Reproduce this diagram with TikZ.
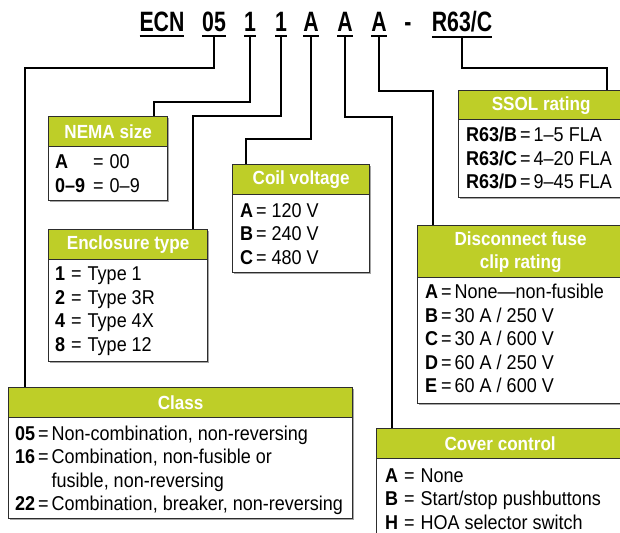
\documentclass[tikz,border=0pt]{standalone}
\usepackage{fontspec}
\setmainfont{Liberation Sans}[FakeStretch=0.9]
\newfontfamily\titlefont{Liberation Sans}[FakeStretch=0.76]
\usetikzlibrary{shadows}
\definecolor{hdrgreen}{RGB}{190,206,40}
\definecolor{bordergray}{RGB}{45,45,45}
\newcommand\ulw[1]{\vtop{\hbox{#1}\kern3pt\hrule height 2pt}}
\tikzset{
  ttl/.style={anchor=base, inner sep=0pt, font=\titlefont\bfseries\fontsize{28}{28}\selectfont},
  conn/.style={draw=black, line width=1.3pt},
  boxsty/.style={draw=bordergray, line width=1.3pt, fill=white, inner sep=0pt,
    drop shadow={shadow xshift=1.6pt, shadow yshift=-1.6pt, fill=black!35, opacity=1}},
  hdrsty/.style={draw=bordergray, line width=1.3pt, fill=hdrgreen, inner sep=0pt, text=white,
    align=center, font=\bfseries\fontsize{19}{23}\selectfont},
  rows/.style={anchor=base west, inner sep=0pt, font=\fontsize{20}{23.5}\selectfont},
}
% name, x, y, width, height, header height, title
\newcommand\lbox[7]{%
  \node[boxsty, minimum width=#4pt, minimum height=#5pt, anchor=north west] (#1) at (#2,#3) {};
  \node[hdrsty, minimum width=#4pt, minimum height=#6pt, anchor=north west] (#1h) at (#2,#3) {#7};
}
\newcommand\eqs{\hspace{3pt}}
\begin{document}
\begin{tikzpicture}[x=1pt,y=-1pt]
\useasboundingbox (0,0) rectangle (620,532);
\begin{scope}
\clip (0,0) rectangle (620,532);
\fill[white] (0,0) rectangle (620,532);

% title code
\node[ttl] (tECN) at (162,32) {\ulw{ECN}};
\node[ttl] (t05)  at (214,32) {\ulw{05}};
\node[ttl] (t1a)  at (250,32) {\ulw{1}};
\node[ttl] (t1b)  at (281,32) {\ulw{1}};
\node[ttl] (tAa)  at (311,32) {\ulw{A}};
\node[ttl] (tAb)  at (345,32) {\ulw{A}};
\node[ttl] (tAc)  at (379,32) {\ulw{A}};
\node[ttl] (tdash) at (408,32) {-};
\node[ttl] (tR)   at (462,32) {\ulw{R63/C}};

% boxes
\lbox{nema}{48}{116}{119}{84}{30}{NEMA size}
\lbox{encl}{48}{229}{159}{132}{30}{Enclosure type}
\lbox{coil}{232}{164}{137}{108}{30}{Coil voltage}
\lbox{ssol}{458}{90}{165}{107}{29}{SSOL rating}
\lbox{disc}{417}{225}{206}{178}{52}{Disconnect fuse\\clip rating}
\lbox{class}{8}{387}{344}{131}{30}{Class}
\lbox{cover}{376}{428}{247}{140}{30}{Cover control}

% connectors
\coordinate (k05) at (25,68);
\coordinate (k1a) at (154,102);
\coordinate (k1b) at (193,116);
\coordinate (kAa) at (246,139);
\coordinate (kAb) at (392,117);
\coordinate (kAc) at (433,91);
\coordinate (kR)  at (607,68);
\draw[conn] (t05.south) |- (k05) -- (k05 |- class.north);
\draw[conn] (t1a.south) |- (k1a) -- (k1a |- nema.north);
\draw[conn] (t1b.south) |- (k1b) -- (k1b |- encl.north);
\draw[conn] (tAa.south) |- (kAa) -- (kAa |- coil.north);
\draw[conn] (tAb.south) |- (kAb) -- (kAb |- cover.north);
\draw[conn] (tAc.south) |- (kAc) -- (kAc |- disc.north);
\draw[conn] (tR.south) |- (kR) -- (kR |- ssol.north);

% rows
\node[rows] (nemat) at (55,168.5) {\begin{tabular}[t]{@{}l@{\hspace{8pt}}c@{\hspace{6pt}}l@{}}
\textbf{A} & = & 00\\ \textbf{0–9} & = & 0–9\end{tabular}};
\node[rows] (enclt) at (55,280.5) {\begin{tabular}[t]{@{}l@{\hspace{6pt}}c@{\hspace{6pt}}l@{}}
\textbf{1} & = & Type 1\\ \textbf{2} & = & Type 3R\\ \textbf{4} & = & Type 4X\\ \textbf{8} & = & Type 12\end{tabular}};
\node[rows] (coilt) at (240,217) {\begin{tabular}[t]{@{}l@{\eqs}c@{\hspace{5pt}}l@{}}
\textbf{A} & = & 120 V\\ \textbf{B} & = & 240 V\\ \textbf{C} & = & 480 V\end{tabular}};
\node[rows] (ssolt) at (466,141.5) {\begin{tabular}[t]{@{}l@{\eqs}c@{\eqs}l@{}}
\textbf{R63/B} & = & 1–5 FLA\\ \textbf{R63/C} & = & 4–20 FLA\\ \textbf{R63/D} & = & 9–45 FLA\end{tabular}};
\node[rows] (disct) at (425,298.5) {\begin{tabular}[t]{@{}l@{\eqs}c@{\eqs}l@{}}
\textbf{A} & = & None—non-fusible\\ \textbf{B} & = & 30 A / 250 V\\ \textbf{C} & = & 30 A / 600 V\\
\textbf{D} & = & 60 A / 250 V\\ \textbf{E} & = & 60 A / 600 V\end{tabular}};
\node[rows] (classt) at (15,440) {\begin{tabular}[t]{@{}l@{\eqs}c@{\eqs}l@{}}
\textbf{05} & = & Non-combination, non-reversing\\ \textbf{16} & = & Combination, non-fusible or\\
 & & fusible, non-reversing\\ \textbf{22} & = & Combination, breaker, non-reversing\end{tabular}};
\node[rows] (covert) at (385,482) {\begin{tabular}[t]{@{}l@{\hspace{6pt}}c@{\hspace{6pt}}l@{}}
\textbf{A} & = & None\\ \textbf{B} & = & Start/stop pushbuttons\\ \textbf{H} & = & HOA selector switch\end{tabular}};
\end{scope}
\end{tikzpicture}
\end{document}
